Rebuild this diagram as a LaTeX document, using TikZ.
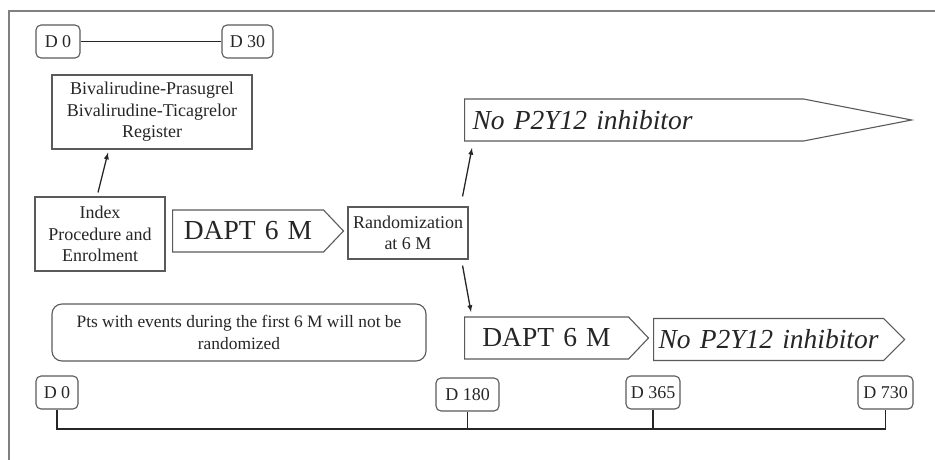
\documentclass[tikz,border=0pt]{standalone}
\usepackage{fontspec}
\setmainfont{Liberation Serif}
\usepackage{tikz}
\usetikzlibrary{shapes.symbols}
\definecolor{boxgray}{HTML}{5A5A5A}
\definecolor{inkgray}{HTML}{262626}
\tikzset{
    box/.style={draw=boxgray, line width=1.1pt, fill=white, align=center, inner sep=0pt,
        text=inkgray, font=\fontsize{18}{21.6}\selectfont},
    daybox/.style={box, rounded corners=5pt, minimum height=33pt},
    arrowbox/.style={draw=boxgray, line width=1.1pt, fill=white, shape=signal, signal to=east,
        inner xsep=0pt, inner ysep=0pt, minimum height=42pt, anchor=west,
        text=inkgray, font=\fontsize{27.5}{33}\selectfont},
    link/.style={->, >=latex, line width=1.3pt, draw=inkgray},
    axis/.style={line width=1.8pt, draw=inkgray}}

\begin{document}
\begin{tikzpicture}[x=1pt, y=-1pt]

            \useasboundingbox (0,0) rectangle (935,460);
            \draw[draw=gray, line width=1.3pt] (9,460) -- (9,11) -- (935,11);

            % first 30 days
            \node[daybox, minimum width=44pt] (D0top) at (58,41.5) {D 0};
            \node[daybox, minimum width=51pt] (D30top) at (247.5,41.5) {D 30};
            \draw[line width=1.6pt, draw=inkgray] (D0top) -- (D30top);

            \node[box, minimum width=200pt, minimum height=74pt] (Reg) at (152,112) {Bivalirudine-Prasugrel\\Bivalirudine-Ticagrelor\\Register};
            \node[box, minimum width=130pt, minimum height=74pt] (Idx) at (100,234) {Index\\Procedure and\\Enrolment};
            \node[box, minimum width=120pt, minimum height=52pt] (Rand) at (408,233) {Randomization\\at 6 M};

            \node[arrowbox, signal pointer angle=93, text width=151pt, align=center] (DAPTa) at (172,231) {DAPT 6 M};
            \node[arrowbox, signal pointer angle=22, inner xsep=8pt, text width=323pt, align=left] (NoA) at (464,120) {\itshape No P2Y12 inhibitor};
            \node[arrowbox, signal pointer angle=93, text width=164pt, align=center] (DAPTb) at (464,338) {DAPT 6 M};
            \node[arrowbox, signal pointer angle=90, text width=230pt, align=center] (NoB) at (653,339.5) {\itshape No P2Y12 inhibitor};

            \draw[link] ([xshift=-2pt,yshift=4pt]Idx.north) -- ([xshift=-44pt,yshift=-3pt]Reg.south);
            \draw[link] ([xshift=-6pt,yshift=10pt]Rand.north east) -- ([xshift=8pt,yshift=-28pt]NoA.west);
            \draw[link] ([xshift=-6pt,yshift=-6pt]Rand.south east) -- ([xshift=7pt,yshift=26pt]DAPTb.west);

            \node[box, rounded corners=10pt, minimum width=374pt, minimum height=57pt, text width=356pt, align=flush center,
                font=\fontsize{17.4}{21.6}\selectfont] (Pts) at (239,332.5) {Pts with events during the first 6 M will not be randomized};

            % time line
            \node[daybox, minimum width=42pt] (B0) at (57,392.5) {D 0};
            \node[daybox, minimum width=63pt] (B180) at (467.5,394.5) {D 180};
            \node[daybox, minimum width=54pt] (B365) at (653,392.5) {D 365};
            \node[daybox, minimum width=55pt] (B730) at (885.5,392.5) {D 730};
            \coordinate (tl) at (0,429);

            \draw[axis] (B0.south) -- (B0.south |- tl) -- (B730.south |- tl) -- (B730.south);
            \draw[axis] (B180.south) -- (B180.south |- tl);
            \draw[axis] (B365.south) -- (B365.south |- tl);

        \end{tikzpicture}
\end{document}
